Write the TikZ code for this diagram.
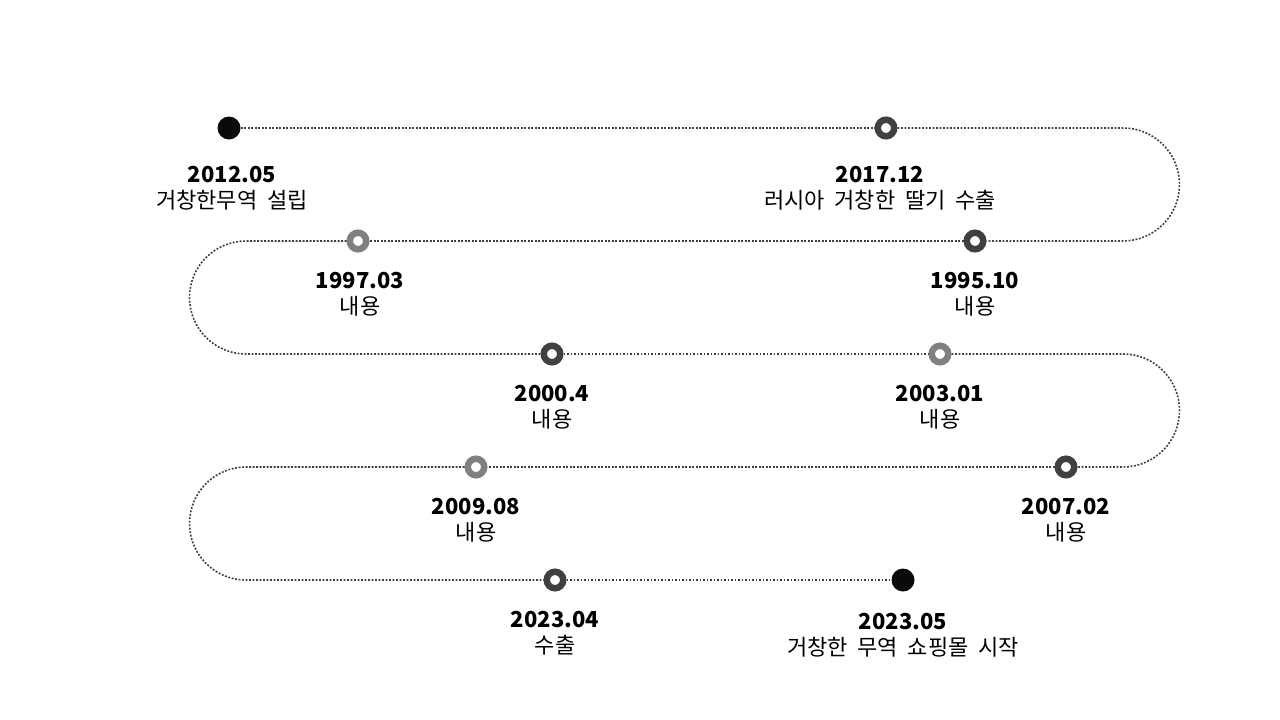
\documentclass[tikz,border=0pt]{standalone}
\usepackage{fontspec}
\setmainfont{Noto Sans CJK KR}
\newcommand{\descfont}{\fontsize{22}{24}\selectfont\spaceskip=9.8pt plus 1pt\relax}
\begin{document}
\begin{tikzpicture}[x=1pt,y=-1pt,
  dotline/.style={draw=black!75, line width=1.6pt, dash pattern=on 1.9pt off 1.6pt},
  ringdark/.style={circle, draw=black!75, fill=white, line width=6.5pt, minimum size=16.5pt, inner sep=0pt},
  ringlight/.style={circle, draw=black!50, fill=white, line width=6.5pt, minimum size=16.5pt, inner sep=0pt},
  dotfill/.style={circle, fill=black!96, minimum size=23pt, inner sep=0pt},
  yearlbl/.style={font=\fontsize{22}{24}\selectfont\bfseries, inner sep=0pt, anchor=center},
  desclbl/.style={font=\descfont, inner sep=0pt, anchor=center}
]
\useasboundingbox (0,0) rectangle (1280,720);
% turn coordinates
\coordinate (t1) at (1123,128);
\coordinate (t2) at (246,241);
\coordinate (t3) at (1123,354);
\coordinate (t4) at (246,467);
% nodes
\node[dotfill]   (n1)  at (229,128) {};
\node[ringdark]  (n2)  at (886,128) {};
\node[ringdark]  (n3)  at (975,241) {};
\node[ringlight] (n4)  at (358,241) {};
\node[ringdark]  (n5)  at (552,354) {};
\node[ringlight] (n6)  at (940,354) {};
\node[ringdark]  (n7)  at (1066,467) {};
\node[ringlight] (n8)  at (476,467) {};
\node[ringdark]  (n9)  at (555,580) {};
\node[dotfill]   (n10) at (903,580) {};
% path
\draw[dotline] (n1) -- (n2);
\draw[dotline] (n2) -- (t1) arc[start angle=-90, end angle=90, radius=56.5] -- (n3);
\draw[dotline] (n3) -- (n4);
\draw[dotline] (n4) -- (t2) arc[start angle=270, end angle=90, radius=56.5] -- (n5);
\draw[dotline] (n5) -- (n6);
\draw[dotline] (n6) -- (t3) arc[start angle=-90, end angle=90, radius=56.5] -- (n7);
\draw[dotline] (n7) -- (n8);
\draw[dotline] (n8) -- (t4) arc[start angle=270, end angle=90, radius=56.5] -- (n9);
\draw[dotline] (n9) -- (n10);
% labels
\node[yearlbl] (y1)  at (232,175) {2012.05};
\node[desclbl] (d1)  at (232,200) {거창한무역 설립};
\node[yearlbl] (y2)  at (880,175) {2017.12};
\node[desclbl] (d2)  at (880,200) {러시아 거창한 딸기 수출};
\node[yearlbl] (y3)  at (975,281) {1995.10};
\node[desclbl] (d3)  at (975,306) {내용};
\node[yearlbl] (y4)  at (360,281) {1997.03};
\node[desclbl] (d4)  at (360,306) {내용};
\node[yearlbl] (y5)  at (552,394) {2000.4};
\node[desclbl] (d5)  at (552,419) {내용};
\node[yearlbl] (y6)  at (940,394) {2003.01};
\node[desclbl] (d6)  at (940,419) {내용};
\node[yearlbl] (y7)  at (1066,507) {2007.02};
\node[desclbl] (d7)  at (1066,532) {내용};
\node[yearlbl] (y8)  at (476,507) {2009.08};
\node[desclbl] (d8)  at (476,532) {내용};
\node[yearlbl] (y9)  at (555,620) {2023.04};
\node[desclbl] (d9)  at (555,645) {수출};
\node[yearlbl] (y10) at (903,622) {2023.05};
\node[desclbl] (d10) at (903,647) {거창한 무역 쇼핑몰 시작};
\end{tikzpicture}
\end{document}
